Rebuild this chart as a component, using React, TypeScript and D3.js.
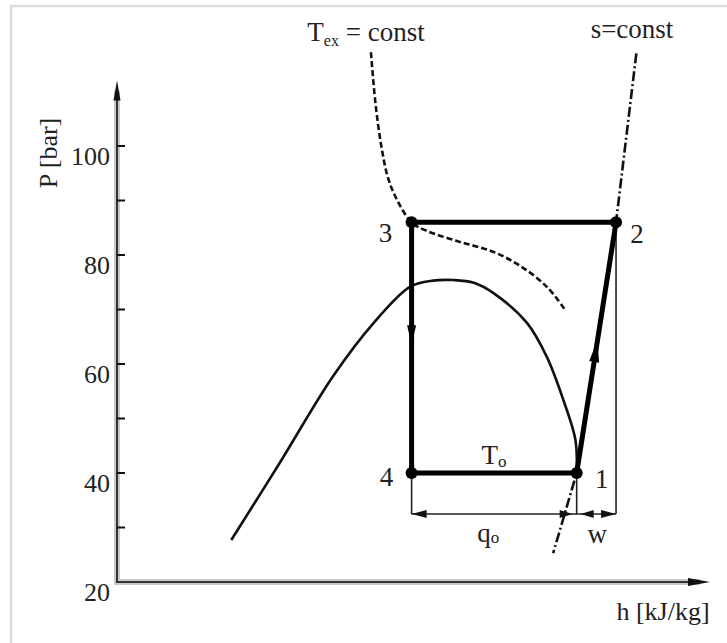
import React from "react";
import * as d3 from "d3";

const WIDTH = 727;
const HEIGHT = 643;

// Pressure axis ticks (bar)
const pressureTicks = [30, 40, 50, 60, 70, 80, 90, 100];
const pressureTickLabels = [20, 40, 60, 80, 100];

// Cycle state points: enthalpy (kJ/kg) and pressure (bar)
const stateNames = ["1", "2", "3", "4"];
const stateH = [430, 461, 300, 300];
const stateP = [40, 86, 86, 40];

// Saturation dome
const domeH = [158, 196, 238, 270, 299, 317, 333, 349, 364.5, 391, 406.5, 419.5, 429, 430];
const domeP = [27.7, 41.8, 57.7, 67.5, 74.2, 75.3, 75.4, 74.9, 73.0, 67.5, 61.3, 53.4, 46.1, 40];

// Isotherm T_ex = const
const texH = [268, 271.3, 276, 281.5, 288.6, 300, 312.3, 338.2, 364.2, 385.5, 406.8, 421];
const texP = [117.2, 108.4, 100.2, 94.1, 90.1, 86, 84.4, 82.4, 80.6, 78, 74.1, 69.9];

// Isentrope s = const
const isentropeH = [477, 461, 430, 411.5];
const isentropeP = [117, 86, 40, 25.3];

const FONT = "'Liberation Serif', 'Times New Roman', serif";
const FS = 27;
const FS_TICK = 26;

const x = d3.scaleLinear().domain([68, 535]).range([117, 710]);
const y = d3.scaleLinear().domain([20, 100]).range([582, 146]);
const P_TOP = 112;

type Pt = [number, number];

const toPts = (hs: number[], ps: number[]): Pt[] => hs.map((h, i) => [h, ps[i]]);

const curve = d3
  .line<Pt>()
  .x((d) => x(d[0]))
  .y((d) => y(d[1]))
  .curve(d3.curveCatmullRom.alpha(0.5));

const straight = d3
  .line<Pt>()
  .x((d) => x(d[0]))
  .y((d) => y(d[1]));

// filled arrowhead with tip at (tx, ty) pointing along angle (radians)
function arrowHead(tx: number, ty: number, angle: number, len: number, half: number) {
  const bx = tx - Math.cos(angle) * len;
  const by = ty - Math.sin(angle) * len;
  const nx = -Math.sin(angle) * half;
  const ny = Math.cos(angle) * half;
  return `M${tx},${ty}L${bx + nx},${by + ny}L${bx - nx},${by - ny}Z`;
}

export default function App() {
  const S = (i: number): [number, number] => [x(stateH[i]), y(stateP[i])];
  const [x1, y1] = S(0);
  const [x2, y2] = S(1);
  const [x3, y3] = S(2);
  const [x4, y4] = S(3);
  const dimY = y4 + 41;

  const labelDx = [25, 21, -26, -25];
  const labelDy = [15, 21, 20, 13];

  // direction of compression line 1 -> 2
  const ang12 = Math.atan2(y2 - y1, x2 - x1);
  const tArrow = 0.53;
  const a12x = x1 + (x2 - x1) * tArrow;
  const a12y = y1 + (y2 - y1) * tArrow;

  const axisX0 = x.range()[0];
  const axisY0 = y(20);
  const axisTop = y(P_TOP);
  const axisRight = x.range()[1];

  return (
    <svg
      width={WIDTH}
      height={HEIGHT}
      style={{ position: "absolute", left: 0, top: 0, background: "#fff" }}
      fontFamily={FONT}
    >
      {/* frame */}
      <path d={`M11,${HEIGHT}L11,6L${WIDTH},6`} fill="none" stroke="#dcdcdc" strokeWidth={2.5} />

      {/* axes with soft halo */}
      <g>
        <path
          d={`M${axisX0},${axisTop + 10}L${axisX0},${axisY0}L${axisRight - 10},${axisY0}`}
          fill="none"
          stroke="#c9c9c9"
          strokeWidth={6}
        />
        <path
          d={`M${axisX0},${axisTop + 10}L${axisX0},${axisY0}L${axisRight - 10},${axisY0}`}
          fill="none"
          stroke="#333"
          strokeWidth={2}
        />
        <path d={arrowHead(axisX0, axisTop, -Math.PI / 2, 20, 3.5)} fill="#111" />
        <path d={arrowHead(axisRight, axisY0, 0, 22, 4)} fill="#111" />
        {pressureTicks.map((v) => (
          <line
            key={v}
            x1={axisX0}
            x2={axisX0 + 8}
            y1={y(v)}
            y2={y(v)}
            stroke="#111"
            strokeWidth={2}
          />
        ))}
        {pressureTickLabels.map((v) => (
          <text
            key={v}
            x={110}
            y={y(v) + 19}
            textAnchor="end"
            fontSize={FS_TICK}
            fill="#222"
          >
            {v}
          </text>
        ))}
        <text
          transform={`translate(57,153) rotate(-90)`}
          textAnchor="middle"
          fontSize={FS_TICK}
          fill="#222"
        >
          P [bar]
        </text>
        <text x={663} y={620} textAnchor="middle" fontSize={FS_TICK} fill="#222">
          h [kJ/kg]
        </text>
      </g>

      {/* T_ex = const isotherm */}
      <path
        d={curve(toPts(texH, texP)) || ""}
        fill="none"
        stroke="#111"
        strokeWidth={2.6}
        strokeDasharray="6,3"
      />
      <text x={366} y={41} textAnchor="middle" fontSize={FS} fill="#222">
        T
        <tspan fontSize={16} dy={5}>
          ex
        </tspan>
        <tspan dy={-5}> = const</tspan>
      </text>

      {/* s = const isentrope */}
      <path
        d={straight(toPts(isentropeH, isentropeP)) || ""}
        fill="none"
        stroke="#111"
        strokeWidth={2.6}
        strokeDasharray="10,3,2,3"
      />
      <text x={632} y={38} textAnchor="middle" fontSize={FS} fill="#222">
        s=const
      </text>

      {/* saturation dome */}
      <path
        d={curve(toPts(domeH, domeP)) || ""}
        fill="none"
        stroke="#111"
        strokeWidth={2.6}
      />

      {/* dimension lines for q_o and w */}
      <g stroke="#222" strokeWidth={1.6} fill="none">
        <line x1={x4} x2={x4} y1={y4} y2={dimY} />
        <line x1={x1} x2={x1} y1={y1} y2={dimY} />
        <line x1={x2} x2={x2} y1={y2} y2={dimY} />
        <line x1={x4} x2={x2} y1={dimY} y2={dimY} />
      </g>
      <path d={arrowHead(x4, dimY, Math.PI, 15, 4)} fill="#111" />
      <path d={arrowHead(x1 - 4, dimY, 0, 13, 4)} fill="#111" />
      <path d={arrowHead(x1 + 4, dimY, Math.PI, 13, 4)} fill="#111" />
      <path d={arrowHead(x2, dimY, 0, 15, 4)} fill="#111" />
      <text x={(x4 + x1) / 2 - 6} y={dimY + 28} textAnchor="middle" fontSize={FS} fill="#222">
        q
        <tspan fontSize={17} dy={1}>
          o
        </tspan>
      </text>
      <text x={(x1 + x2) / 2 + 1} y={dimY + 29} textAnchor="middle" fontSize={FS} fill="#222">
        w
      </text>

      {/* cycle */}
      <g stroke="#000" strokeWidth={5} fill="none" strokeLinecap="round">
        <line x1={x3} y1={y3} x2={x2} y2={y2} />
        <line x1={x3} y1={y3} x2={x4} y2={y4} />
        <line x1={x4} y1={y4} x2={x1} y2={y1} />
        <line x1={x1} y1={y1} x2={x2} y2={y2} />
      </g>
      <path d={arrowHead(x3, y3 + 123, Math.PI / 2, 20, 4.5)} fill="#000" />
      <path d={arrowHead(a12x, a12y, ang12, 22, 5)} fill="#000" />

      {stateNames.map((n, i) => {
        const [cx, cy] = S(i);
        return (
          <g key={n}>
            <circle cx={cx} cy={cy} r={6} fill="#000" />
            <text
              x={cx + labelDx[i]}
              y={cy + labelDy[i]}
              textAnchor="middle"
              fontSize={FS}
              fill="#222"
            >
              {n}
            </text>
          </g>
        );
      })}

      <text x={494} y={y4 - 9} textAnchor="middle" fontSize={FS} fill="#222">
        T
        <tspan fontSize={17} dy={3}>
          o
        </tspan>
      </text>
    </svg>
  );
}
